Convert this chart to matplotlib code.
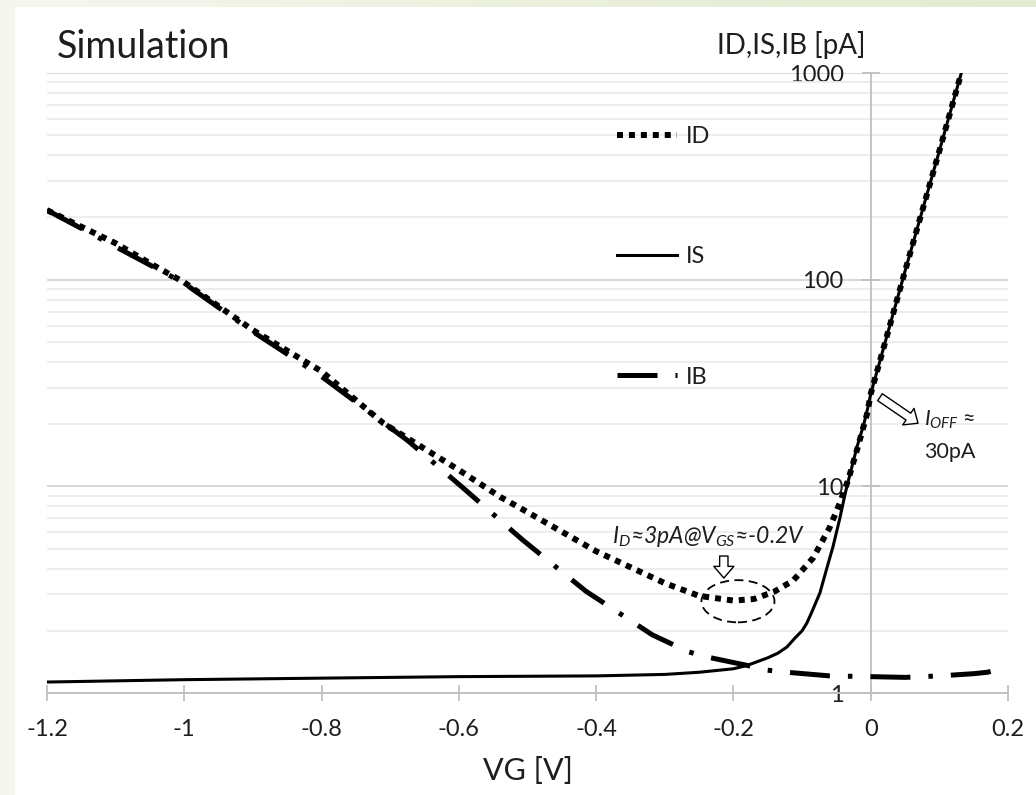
import numpy as np
import matplotlib
matplotlib.use('Agg')
import matplotlib.pyplot as plt
from matplotlib.patches import Ellipse, Rectangle

plt.rcParams['font.family'] = ['Lato', 'DejaVu Sans']
plt.rcParams['mathtext.fontset'] = 'custom'
plt.rcParams['mathtext.rm'] = 'Lato'
plt.rcParams['mathtext.it'] = 'Lato:italic'

# Données (VG en V, courants en pA)
vg_id = [-1.2, -1.1, -1.05, -1.0, -0.9, -0.8, -0.71, -0.6, -0.54, -0.5, -0.4, -0.3,
         -0.25, -0.2, -0.17, -0.14, -0.113, -0.084, -0.06, -0.045, -0.033, -0.02,
         -0.005, 0.0, 0.05, 0.1, 0.132]
id_pa = [217, 150, 120, 97, 57, 36, 20.2, 12.0, 8.9, 7.5, 4.85, 3.4,
         2.95, 2.8, 2.85, 3.1, 3.5, 4.5, 6.3, 8.3, 10.7, 15.0,
         22.6, 28, 110, 420, 1000]

vg_is = [-1.2, -1.0, -0.8, -0.6, -0.4, -0.3, -0.25, -0.2, -0.18, -0.15, -0.135,
         -0.122, -0.11, -0.1, -0.093, -0.085, -0.074, -0.065, -0.055, -0.045,
         -0.037, -0.03, -0.02, -0.01, -0.005, 0.0, 0.05, 0.1, 0.132]
is_pa = [1.13, 1.16, 1.18, 1.2, 1.21, 1.23, 1.26, 1.31, 1.36, 1.48, 1.56,
         1.67, 1.85, 2.0, 2.18, 2.5, 3.05, 3.9, 5.1, 7.0,
         9.3, 11.5, 15.5, 20.0, 23.4, 28, 110, 420, 1000]

vg_ib = [-1.2, -1.0, -0.9, -0.8, -0.674, -0.595, -0.507, -0.415, -0.318, -0.265,
         -0.237, -0.18, -0.151, -0.122, -0.06, 0.0, 0.05, 0.1, 0.15, 0.17, 0.2]
ib_pa = [217, 96, 56, 34, 16.6, 9.9, 5.5, 3.11, 1.91, 1.58,
         1.49, 1.36, 1.29, 1.26, 1.21, 1.2, 1.19, 1.21, 1.24, 1.26, 1.34]

x_ticks = [-1.2, -1.0, -0.8, -0.6, -0.4, -0.2, 0.0, 0.2]
x_labels = ['-1.2', '-1', '-0.8', '-0.6', '-0.4', '-0.2', '0', '0.2']
y_ticks = [1, 10, 100, 1000]
y_labels = ['1', '10', '100', '1000']

W, H = 1036, 795
txt = '#1e1e1e'
fig = plt.figure(figsize=(W / 100, H / 100), dpi=100)

# bandeau vert clair (gauche et haut)
fig.patches.append(Rectangle((0, 0), 14 / W, 1, transform=fig.transFigure,
                             color='#f5f7ee', zorder=0))
top = fig.add_axes([0, 1 - 7 / H, 1, 7 / H])
top.imshow(np.linspace(0, 1, 256)[None, :], aspect='auto',
           cmap=matplotlib.colors.LinearSegmentedColormap.from_list('g', ['#f5f7ee', '#e2ebcf']))
top.axis('off')

ax = fig.add_axes([47 / W, 1 - 693 / H, 961 / W, 620 / H])
ax.set_yscale('log')
ax.set_xlim(-1.2, 0.2)
ax.set_ylim(1, 1000)

ax.plot(vg_id, id_pa, color='black', lw=4.3, linestyle=(0, (1, 1)),
        dash_capstyle='butt', label='ID', zorder=3)
ax.plot(vg_is, is_pa, color='black', lw=2.2, label='IS', zorder=4)
ax.plot(vg_ib, ib_pa, color='black', lw=3.6, linestyle=(0, (8, 3.6, 0.9, 3.6)),
        dash_capstyle='butt', label='IB', zorder=3)

# grille et axes façon Excel
ax.grid(True, which='major', axis='y', color='#d4d4d4', lw=1.3)
ax.grid(True, which='minor', axis='y', color='#ececec', lw=1.3)
ax.set_axisbelow(True)
for s in ['top', 'right']:
    ax.spines[s].set_visible(False)
ax.spines['left'].set_position(('data', 0))
ax.spines['left'].set_color('#bfbfbf')
ax.spines['bottom'].set_color('#bfbfbf')
ax.spines['left'].set_linewidth(1.3)
ax.spines['bottom'].set_linewidth(1.3)

ax.set_xticks(x_ticks)
ax.set_xticklabels(x_labels)
ax.set_yticks(y_ticks)
ax.set_yticklabels(y_labels)
ax.yaxis.set_minor_formatter(matplotlib.ticker.NullFormatter())
ax.tick_params(axis='y', which='minor', length=0)
ax.tick_params(axis='y', which='major', direction='inout', length=13, width=1.3,
               color='#bfbfbf', labelsize=17, pad=13, labelcolor=txt)
ax.tick_params(axis='x', which='major', direction='inout', length=12, width=1.3,
               color='#bfbfbf', labelsize=17, pad=13, labelcolor=txt)

ax.set_xlabel('VG [V]', fontsize=22, labelpad=12, color=txt)
fig.text(791 / W, 1 - 45 / H, 'ID,IS,IB [pA]', ha='center', va='center',
         fontsize=20, color=txt)
fig.text(57 / W, 1 - 47 / H, 'Simulation', ha='left', va='center',
         fontsize=27, color=txt)

leg = ax.legend(loc='upper left', bbox_to_anchor=(0.593, 0.914), frameon=False,
                fontsize=17, handlelength=2.54, handletextpad=0.38,
                labelspacing=4.2, borderpad=0, borderaxespad=0)
for t in leg.get_texts():
    t.set_color(txt)

# annotations
ax.text(-0.377, 5.69, r'$I_D$≈3pA@$V_{GS}$≈-0.2V', style='italic', fontsize=16.5,
        va='center', ha='left', color=txt)
arrow = dict(arrowstyle='simple,head_length=0.7,head_width=1.2,tail_width=0.5',
             fc='white', ec='black', lw=1, mutation_scale=12, shrinkA=0, shrinkB=0)
ax.annotate('', xy=(-0.214, 3.6), xytext=(-0.214, 4.6), arrowprops=arrow)
ax.annotate('', xy=(0.0689, 20.2), xytext=(0.0135, 27), arrowprops=arrow)
ax.add_patch(Ellipse((0.719, 0.148), 0.076, 0.068, transform=ax.transAxes,
                     fill=False, ec='black', lw=1.3, ls=(0, (5, 3))))
ax.text(0.0776, 20.9, r'$I_{OFF}$ ≈', fontsize=15.5, va='center', ha='left',
        color=txt)
ax.text(0.0776, 14.7, '30pA', fontsize=15.5, va='center', ha='left', color=txt)

fig.savefig('out.png', dpi=100)
